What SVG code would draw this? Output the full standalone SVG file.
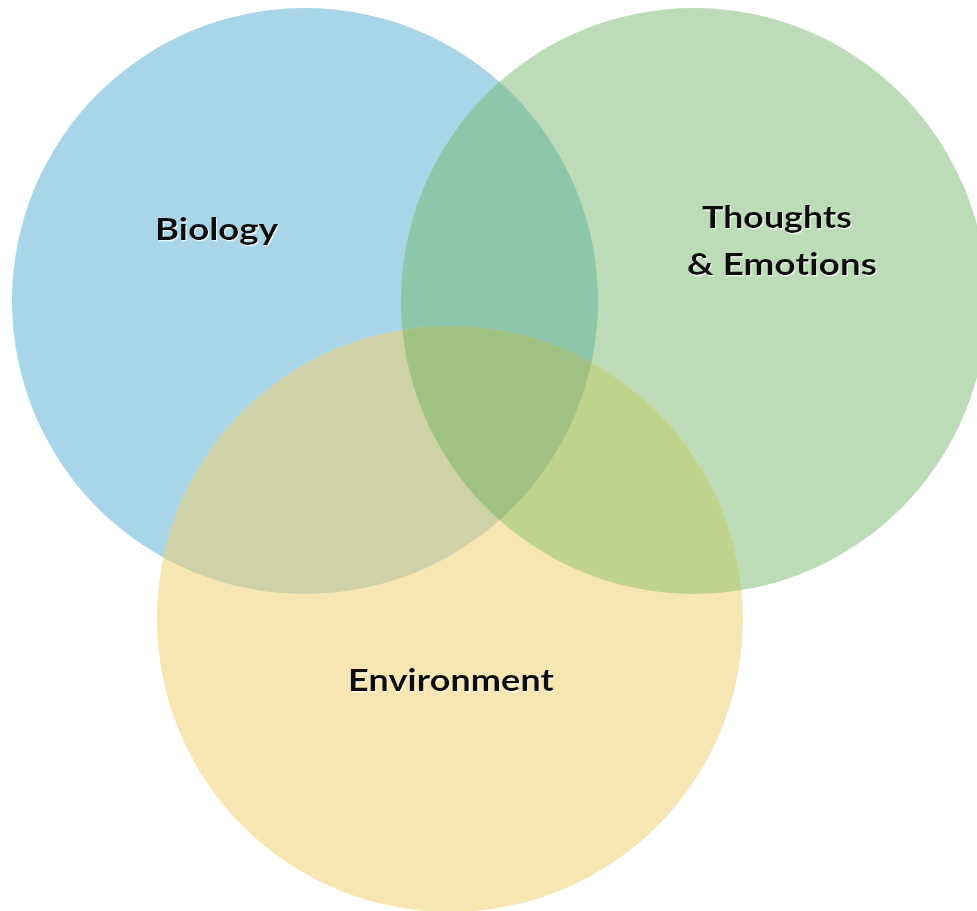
<svg xmlns="http://www.w3.org/2000/svg" width="977" height="911" viewBox="0 0 977 911">
  <style>
    .lbl { font-family: Lato, "Open Sans", "Liberation Sans", sans-serif; font-weight: 700; font-size: 31px; fill: #111111; filter: url(#glow); font-variant-ligatures: none; }
  </style>
  <defs>
    <filter id="glow" x="-10%" y="-20%" width="120%" height="150%">
      <feDropShadow dx="1" dy="1.3" stdDeviation="0.5" flood-color="#ffffff" flood-opacity="0.8"/>
    </filter>
    <clipPath id="clipBlue"><circle cx="305" cy="301" r="293"/></clipPath>
    <clipPath id="clipGreen"><circle cx="694" cy="301" r="293"/></clipPath>
    <clipPath id="clipYellow"><circle cx="450" cy="619" r="293"/></clipPath>
  </defs>
  <rect x="0" y="0" width="977" height="911" fill="#ffffff"/>

  <g id="biology">
    <circle cx="305" cy="301" r="293" fill="#A8D6E8"/>
  </g>
  <g id="thoughts-emotions">
    <circle cx="694" cy="301" r="293" fill="#BCDCB7"/>
  </g>
  <g id="environment">
    <circle cx="450" cy="619" r="293" fill="#F8E6B2"/>
  </g>

  <g id="overlaps">
    <circle cx="694" cy="301" r="293" fill="#8CC6AB" clip-path="url(#clipBlue)"/>
    <circle cx="450" cy="619" r="293" fill="#CFD1A8" clip-path="url(#clipBlue)"/>
    <circle cx="450" cy="619" r="293" fill="#BFD38C" clip-path="url(#clipGreen)"/>
    <g clip-path="url(#clipGreen)">
      <circle cx="450" cy="619" r="293" fill="#A0C383" clip-path="url(#clipBlue)"/>
    </g>
  </g>

  <g id="labels">
    <text class="lbl" x="155" y="240" textLength="123" lengthAdjust="spacingAndGlyphs">Biology</text>
    <text class="lbl" x="702" y="228" textLength="150" lengthAdjust="spacingAndGlyphs">Thoughts</text>
    <text class="lbl" x="687" y="275" textLength="190" lengthAdjust="spacingAndGlyphs">&amp; Emotions</text>
    <text class="lbl" x="348" y="691" textLength="206" lengthAdjust="spacingAndGlyphs">Environment</text>
  </g>
</svg>
